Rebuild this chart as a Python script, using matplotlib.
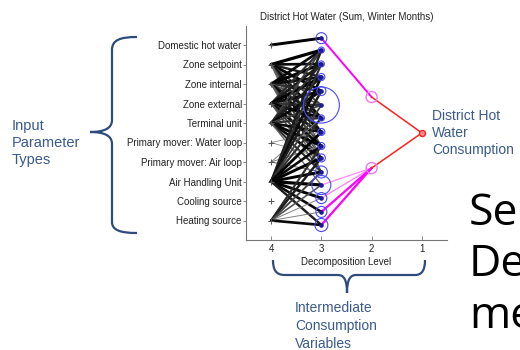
import matplotlib
matplotlib.use('Agg')
import matplotlib.pyplot as plt
import numpy as np
from matplotlib.path import Path
from matplotlib.patches import PathPatch

plt.rcParams['font.family'] = ['Liberation Sans', 'DejaVu Sans']

# ---------------- data ----------------
title = 'District Hot Water (Sum, Winter Months)'
param_labels = ['Heating source', 'Cooling source', 'Air Handling Unit',
                'Primary mover: Air loop', 'Primary mover: Water loop',
                'Terminal unit', 'Zone external', 'Zone internal',
                'Zone setpoint', 'Domestic hot water']
param_y = [1, 2, 3, 4, 5, 6, 7, 8, 9, 10]
level_ticks = [4, 3, 2, 1]

# level-3 (intermediate) nodes, top to bottom
level3_y = [10.35, 9.74, 9.03, 8.36, 7.64, 6.92, 6.26, 5.54, 4.82, 4.21,
            3.49, 2.82, 2.15, 1.44, 0.77]
level3_size = [5.5, 3.0, 3.0, 3.5, 4.5, 18.0, 3.0, 3.5, 3.5, 4.0,
               6.0, 9.5, 5.5, 5.5, 6.5]
level2_y = [7.33, 3.69]
level2_size = [5.5, 5.5]
level1_y = [5.49]
level1_size = [3.0]

# level-4 parameter -> level-3 node edges (param y, node index 1..15, weight)
edge_src = [10,
            9, 9, 9, 9, 9, 9, 9, 9, 9, 9,
            8, 8, 8, 8, 8, 8, 8, 8, 8, 8,
            7, 7, 7, 7, 7, 7, 7, 7, 7, 7,
            6, 6, 6, 6, 6, 6, 6, 6, 6, 6, 6,
            5, 5,
            4, 4, 4,
            3, 3, 3, 3, 3, 3, 3, 3, 3, 3, 3, 3, 3, 3,
            1, 1, 1, 1, 1, 1, 1]
edge_dst = [1,
            2, 3, 4, 5, 6, 7, 8, 9, 10, 11,
            2, 3, 4, 5, 6, 7, 8, 9, 10, 11,
            2, 3, 4, 5, 6, 7, 8, 9, 10, 11,
            2, 3, 4, 5, 6, 7, 8, 9, 10, 11, 12,
            8, 10,
            7, 9, 11,
            2, 3, 4, 5, 6, 7, 8, 9, 10, 11, 12, 13, 14, 15,
            9, 10, 11, 12, 13, 14, 15]
edge_w = [0.9,
          1.0, 0.8, 0.7, 0.9, 0.5, 0.8, 0.6, 0.4, 0.3, 0.3,
          0.8, 0.9, 0.8, 0.6, 0.4, 0.7, 0.8, 0.5, 0.4, 0.3,
          0.6, 0.7, 0.9, 0.8, 0.6, 0.9, 0.7, 0.8, 0.5, 0.4,
          0.5, 0.6, 0.7, 0.8, 0.5, 0.6, 0.8, 0.9, 0.8, 0.6, 0.3,
          0.1, 0.1,
          0.15, 0.15, 0.2,
          0.7, 0.6, 0.8, 0.7, 0.5, 0.6, 0.9, 0.8, 0.9, 0.9, 1.0, 0.9, 0.8, 0.7,
          0.6, 0.7, 0.5, 0.4, 0.15, 0.15, 0.8]

# level-3 -> level-2 edges (node index, level-2 index, weight)
l32_src = [1, 12, 13, 14, 15]
l32_dst = [0, 1, 1, 1, 1]
l32_w = [0.8, 0.3, 0.4, 1.0, 1.0]

# ---------------- figure ----------------
fig = plt.figure(figsize=(5.2, 3.5), dpi=100)
W, H = 520, 350

# overlay in pixel coords for slide annotations
ov = fig.add_axes([0, 0, 1, 1])
ov.set_xlim(0, W)
ov.set_ylim(H, 0)
ov.axis('off')
ov.patch.set_alpha(0)

ax = fig.add_axes([246 / W, (H - 240) / H, 201 / W, 214.5 / H])
ax.patch.set_alpha(0)

def px(r):
    return (1.44 * r) ** 2

# edges level 4 -> 3
for s, d, w in zip(edge_src, edge_dst, edge_w):
    g = max(0.0, 0.6 - 0.7 * w)
    ax.plot([4, 3], [s, level3_y[d - 1]], color=(g, g, g),
            lw=0.4 + 1.9 * w, solid_capstyle='round', zorder=2)

# edges level 3 -> 2
for s, d, w in zip(l32_src, l32_dst, l32_w):
    col = '#ff00ff' if w > 0.6 else '#ff88ff'
    ax.plot([3, 2], [level3_y[s - 1], level2_y[d]], color=col,
            lw=0.6 + 1.0 * w, zorder=3)

# edges level 2 -> 1
for y2 in level2_y:
    ax.plot([2, 1], [y2, level1_y[0]], color='#ff2020', lw=1.1, zorder=3)

# nodes
ax.scatter([4] * len(param_y), param_y, marker='+', s=18, color='#555555',
           lw=0.7, zorder=4)
ax.scatter([3] * len(level3_y), level3_y, s=[px(r) for r in level3_size],
           facecolors='none', edgecolors='#4a4aff', linewidths=0.8, zorder=5)
ax.scatter([3] * len(level3_y), level3_y, s=px(1.6), color='#1a1aa0', zorder=5)
ax.scatter([2] * len(level2_y), level2_y, s=[px(r) for r in level2_size],
           facecolors='none', edgecolors='#ee77ee', linewidths=1.0, zorder=5)
ax.scatter([1] * len(level1_y), level1_y, s=[px(r) for r in level1_size],
           facecolors='#ff9090', edgecolors='#ff2020', linewidths=1.0, zorder=5)

ax.set_xlim(4.5, 0.5)
ax.set_ylim(0, 11)
ax.set_xticks(level_ticks)
ax.set_xticklabels([str(t) for t in level_ticks])
ax.set_yticks(param_y)
ax.set_yticklabels(param_labels)
for sp in ['top', 'right']:
    ax.spines[sp].set_visible(False)
for sp in ['left', 'bottom']:
    ax.spines[sp].set_color('#777777')
    ax.spines[sp].set_linewidth(0.8)
ax.tick_params(axis='y', direction='out', length=2, width=0.6, colors='#777777',
               labelcolor='#222222', labelsize=7, pad=1)
ax.tick_params(axis='x', direction='in', length=3, width=0.6, colors='#777777',
               labelcolor='#222222', labelsize=7, pad=3)
ax.set_xlabel('Decomposition Level', fontsize=7, color='#222222', labelpad=2)
ax.set_title(title, fontsize=7, color='#222222', pad=4)

# ---------------- slide annotations ----------------
brace_col = '#2f4b7c'
txt_col = '#3a5a8c'

lb = Path([(137, 37), (120, 37), (112, 40), (112, 50),
           (112, 120),
           (112, 128), (105, 132), (90, 132),
           (105, 132), (112, 136), (112, 144),
           (112, 222),
           (112, 230), (120, 233), (137, 233)],
          [Path.MOVETO, Path.CURVE4, Path.CURVE4, Path.CURVE4,
           Path.LINETO,
           Path.CURVE4, Path.CURVE4, Path.CURVE4,
           Path.CURVE4, Path.CURVE4, Path.CURVE4,
           Path.LINETO,
           Path.CURVE4, Path.CURVE4, Path.CURVE4])
ov.add_patch(PathPatch(lb, fill=False, ec=brace_col, lw=1.6))

bb = Path([(273, 260), (273, 270), (276, 275), (285, 275),
           (338, 275),
           (344, 275), (347, 280), (347, 293),
           (347, 280), (350, 275), (356, 275),
           (415, 275),
           (422, 275), (425, 270), (425, 260)],
          [Path.MOVETO, Path.CURVE4, Path.CURVE4, Path.CURVE4,
           Path.LINETO,
           Path.CURVE4, Path.CURVE4, Path.CURVE4,
           Path.CURVE4, Path.CURVE4, Path.CURVE4,
           Path.LINETO,
           Path.CURVE4, Path.CURVE4, Path.CURVE4])
ov.add_patch(PathPatch(bb, fill=False, ec=brace_col, lw=1.6))

ov.text(12, 143, 'Input\nParameter\nTypes', fontsize=10.5, color=txt_col,
        ha='left', va='center', linespacing=1.25)
ov.text(432, 133, 'District Hot\nWater\nConsumption', fontsize=10,
        color=txt_col, ha='left', va='center', linespacing=1.3)
ov.text(295, 326, 'Intermediate\nConsumption\nVariables', fontsize=10,
        color=txt_col, ha='left', va='center', linespacing=1.35)

for s, yb in zip(['Se', 'De', 'me'], [225, 276, 328]):
    ov.text(469, yb, s, fontsize=32, color='black', family=['Open Sans', 'DejaVu Sans'],
            ha='left', va='baseline')

fig.savefig('out.png', dpi=100)
